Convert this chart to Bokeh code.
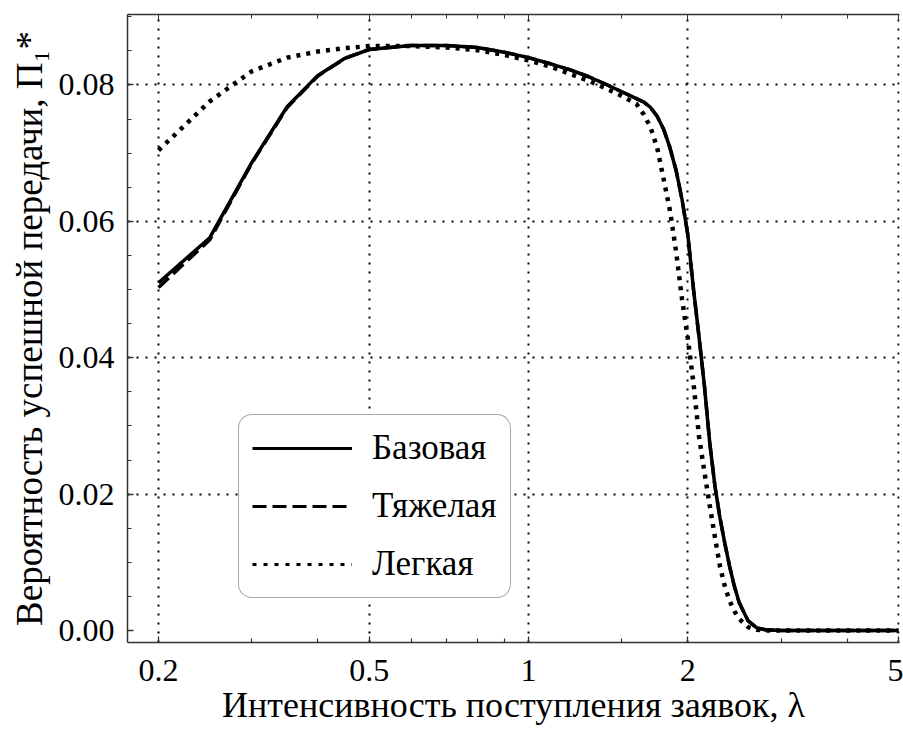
from bokeh.plotting import figure
from bokeh.models import (FixedTicker, LogAxis, Range1d, Legend, LegendItem,
                          CustomJSTickFormatter, NumeralTickFormatter, ColumnDataSource)
from bokeh.embed import file_html
from bokeh.resources import INLINE

# ---------------- data ----------------
lam = [0.2, 0.25, 0.3, 0.35, 0.4, 0.45, 0.5, 0.6, 0.7, 0.8, 0.9, 1.0, 1.1, 1.2, 1.3,
       1.4, 1.5, 1.6, 1.65, 1.7, 1.75, 1.8, 1.85, 1.9, 1.95, 2.0, 2.05, 2.1, 2.15, 2.2,
       2.25, 2.3, 2.35, 2.4, 2.45, 2.5, 2.6, 2.7, 2.8, 3.0, 3.5, 4.0, 4.5, 5.0]

base = [0.0510, 0.0576, 0.0686, 0.0768, 0.0814, 0.0839, 0.0852, 0.0858, 0.0858, 0.0855,
        0.0848, 0.0840, 0.0831, 0.0822, 0.0812, 0.0801, 0.0790, 0.0780, 0.0775, 0.0767,
        0.0754, 0.0735, 0.0708, 0.0675, 0.0632, 0.0580, 0.0500, 0.0430, 0.0358, 0.0275,
        0.0212, 0.0165, 0.0127, 0.0093, 0.0064, 0.0041, 0.0014, 0.0004, 0.0001, 0.0000,
        0.0000, 0.0000, 0.0000, 0.0000]

heavy = [0.0503, 0.0573, 0.0685, 0.0767, 0.0813, 0.0839, 0.0852, 0.0858, 0.0858, 0.0855,
         0.0848, 0.0840, 0.0831, 0.0822, 0.0812, 0.0801, 0.0790, 0.0780, 0.0775, 0.0767,
         0.0754, 0.0735, 0.0708, 0.0675, 0.0632, 0.0580, 0.0500, 0.0430, 0.0358, 0.0275,
         0.0212, 0.0165, 0.0127, 0.0093, 0.0064, 0.0041, 0.0014, 0.0004, 0.0001, 0.0000,
         0.0000, 0.0000, 0.0000, 0.0000]

light = [0.0704, 0.0776, 0.0820, 0.0840, 0.0849, 0.0854, 0.0857, 0.0857, 0.0855, 0.0851,
         0.0844, 0.0836, 0.0827, 0.0816, 0.0806, 0.0795, 0.0784, 0.0772, 0.0757, 0.0738,
         0.0708, 0.0662, 0.0616, 0.0556, 0.0486, 0.0428, 0.0362, 0.0284, 0.0232, 0.0183,
         0.0137, 0.0094, 0.0064, 0.0043, 0.0028, 0.0017, 0.0005, 0.0001, 0.0000, 0.0000,
         0.0000, 0.0000, 0.0000, 0.0000]

series_names = ["Базовая", "Тяжелая", "Легкая"]
x_major = [0.2, 0.5, 1, 2, 5]
x_minor = [0.3, 0.4, 0.6, 0.7, 0.8, 0.9, 1.5, 3, 4]
y_major = [0.0, 0.02, 0.04, 0.06, 0.08]
y_minor = [0.005 * i for i in range(0, 19)]
y_grid = [0.02, 0.04, 0.06, 0.08]

x_label = "Интенсивность поступления заявок, λ"
y_label = "Вероятность успешной передачи, Π₁*"

FONT = "Liberation Serif"

p = figure(width=903, height=738, x_axis_type="log",
           x_range=Range1d(0.17477, 5.0218), y_range=Range1d(-0.00176, 0.09033),
           output_backend="svg", toolbar_location=None,
           min_border_left=127, min_border_right=4, min_border_top=14,
           min_border_bottom=96)
p.outline_line_color = None
p.background_fill_color = "white"
p.border_fill_color = "white"

xt = FixedTicker(ticks=x_major, minor_ticks=x_minor)
yt = FixedTicker(ticks=y_major, minor_ticks=y_minor)

ax = p.xaxis[0]
ax.ticker = xt
ax.formatter = CustomJSTickFormatter(code="return tick.toString();")
ay = p.yaxis[0]
ay.ticker = yt
ay.formatter = NumeralTickFormatter(format="0.00")

for a in (ax, ay):
    a.major_tick_in = 6
    a.major_tick_out = 0
    a.minor_tick_in = 4
    a.minor_tick_out = 0
    a.axis_line_color = "#333333"
    a.axis_line_width = 1.5
    a.major_tick_line_color = "#333333"
    a.minor_tick_line_color = "#333333"
    a.major_tick_line_width = 1.3
    a.minor_tick_line_width = 1.2
    a.major_label_text_font = FONT
    a.major_label_text_font_size = "32px"
    a.major_label_text_color = "black"
    a.axis_label_text_font = FONT
    a.axis_label_text_font_style = "normal"
    a.axis_label_text_color = "black"

ax.axis_label_text_font_size = "36px"
ay.axis_label_text_font_size = "37px"
ax.major_label_standoff = 17
ay.major_label_standoff = 13
ax.axis_label = x_label
ay.axis_label = y_label
ax.axis_label_standoff = 1
ay.axis_label_standoff = 6

top = LogAxis(ticker=xt, formatter=CustomJSTickFormatter(code="return '';"),
              major_label_standoff=0,
              major_tick_in=6, major_tick_out=0, minor_tick_in=4, minor_tick_out=0,
              axis_line_color="#333333", axis_line_width=1.5,
              major_tick_line_color="#333333", minor_tick_line_color="#333333")
p.add_layout(top, "above")

p.xgrid.ticker = FixedTicker(ticks=x_major)
p.ygrid.ticker = FixedTicker(ticks=y_grid)
for g in (p.xgrid[0], p.ygrid[0]):
    g.grid_line_color = "black"
    g.grid_line_width = 2
    g.grid_line_dash = "2 7"

# curves
r_light = p.line(lam, light, line_color="black", line_width=4.5, line_dash="4 6")
r_heavy = p.line(lam, heavy, line_color="black", line_width=3.5, line_dash="14 6")
r_base = p.line(lam, base, line_color="black", line_width=3.5)

# legend-only glyphs (no visible data)
nan = float("nan")
empty = ColumnDataSource(data=dict(x=[nan], y=[nan]))
l_base = p.line("x", "y", source=empty, line_color="black", line_width=3)
l_heavy = p.line("x", "y", source=empty, line_color="black", line_width=3, line_dash="14 6")
l_light = p.line("x", "y", source=empty, line_color="black", line_width=3, line_dash="4 7")

legend = Legend(items=[LegendItem(label=series_names[0], renderers=[l_base]),
                       LegendItem(label=series_names[1], renderers=[l_heavy]),
                       LegendItem(label=series_names[2], renderers=[l_light])],
                location=(111, 44), glyph_width=100, glyph_height=34, label_height=34,
                label_standoff=20, spacing=18, padding=13, margin=0,
                label_text_font=FONT, label_text_font_size="35px",
                label_text_color="black",
                border_line_color="#555555", border_line_width=1.5,
                background_fill_color="white", background_fill_alpha=1.0,
                border_radius=14)
p.add_layout(legend, "center")

open("out.html", "w").write(file_html(p, INLINE))
